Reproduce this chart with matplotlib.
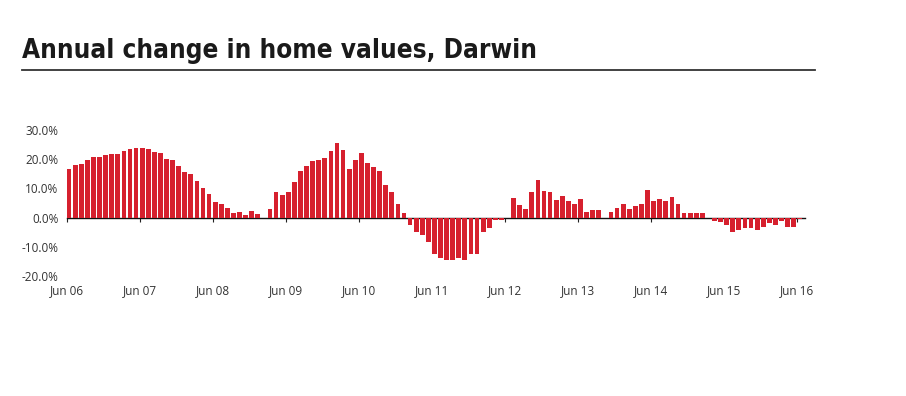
"""Annual change in home values, Darwin - monthly bars."""

import matplotlib
matplotlib.use("Agg")
import matplotlib.pyplot as plt
from matplotlib.lines import Line2D
import numpy as np

TITLE = "Annual change in home values, Darwin"

# annual change (%), monthly from Jun 06 to Jun 16
changes = [
    16.7, 18.1, 18.4, 19.7, 20.6, 20.6, 21.5, 21.8, 21.8, 22.9, 23.5, 23.8,
    23.8, 23.4, 22.6, 22.2, 20.0, 19.8, 17.7, 15.6, 15.0, 12.4, 10.2, 8.0,
    5.5, 4.8, 3.3, 1.7, 2.0, 1.0, 2.4, 1.4, -0.3, 3.1, 8.7, 7.7,
    8.7, 12.2, 15.8, 17.8, 19.4, 19.8, 20.3, 22.9, 25.7, 23.2, 16.6, 19.8,
    22.0, 18.6, 17.5, 15.8, 11.0, 8.7, 4.5, 1.7, -2.6, -4.9, -6.0, -8.3,
    -12.4, -13.8, -14.4, -14.4, -13.8, -14.4, -12.4, -12.4, -4.8, -3.5, -0.8, -0.7,
    -0.2, 6.8, 4.2, 3.0, 8.7, 13.0, 9.0, 8.7, 5.9, 7.5, 5.8, 4.6,
    6.2, 1.8, 2.7, 2.5, 0.0, 1.8, 3.3, 4.5, 3.0, 3.9, 4.5, 9.6,
    5.8, 6.5, 5.6, 7.1, 4.8, 1.5, 1.7, 1.5, 1.5, -0.2, -1.2, -1.5,
    -2.6, -4.9, -4.3, -3.6, -3.5, -4.1, -3.2, -1.9, -2.6, -1.25, -3.3, -3.3,
    -0.5,
]
tick_labels = ["Jun 06", "Jun 07", "Jun 08", "Jun 09", "Jun 10", "Jun 11",
               "Jun 12", "Jun 13", "Jun 14", "Jun 15", "Jun 16"]
y_ticks = [-20, -10, 0, 10, 20, 30]

BAR_COLOR = "#d6202e"
TEXT_COLOR = "#333333"
TICK_FONT = ["Open Sans", "DejaVu Sans"]

W, H = 906, 396
fig = plt.figure(figsize=(W / 100, H / 100), dpi=100)

# title and rule
fig.text(22 / W, 1 - 58 / H, TITLE, fontsize=18.7, fontweight="bold",
         family=["DejaVu Sans"], fontstretch="condensed", color="#1a1a1a",
         va="baseline", ha="left")
fig.add_artist(Line2D([22 / W, 815 / W], [1 - 70 / H, 1 - 70 / H],
                      transform=fig.transFigure, color="#333333", lw=1.3))

ax = fig.add_axes([66.7 / W, 1 - 276 / H, (805 - 66.7) / W, (276 - 130) / H])

x = np.arange(len(changes))
ax.bar(x, changes, width=0.78, align="edge", color=BAR_COLOR, linewidth=0)

ax.set_xlim(0, len(changes) + 0.25)
ax.set_ylim(y_ticks[0], y_ticks[-1])

month_ticks = np.arange(len(tick_labels)) * 12
ax.set_xticks(month_ticks)
ax.set_xticklabels(tick_labels)
ax.set_yticks(y_ticks)
ax.set_yticklabels([f"{v:.1f}%" for v in y_ticks])
ax.tick_params(axis="both", length=0, labelsize=8.5, colors=TEXT_COLOR)
ax.tick_params(axis="x", pad=6)
ax.tick_params(axis="y", pad=6)
for lab in ax.get_xticklabels() + ax.get_yticklabels():
    lab.set_family(TICK_FONT)
for s in ax.spines.values():
    s.set_visible(False)

# zero line with small month ticks
zero = ax.secondary_xaxis((0 - y_ticks[0]) / (y_ticks[-1] - y_ticks[0]))
zero.set_xticks(month_ticks)
zero.set_xticklabels([])
zero.tick_params(axis="x", direction="out", length=3, width=0.8, color="#222222")
zero.spines["bottom"].set_color("#111111")
zero.spines["bottom"].set_linewidth(1.0)

fig.savefig("out.png", dpi=100)
